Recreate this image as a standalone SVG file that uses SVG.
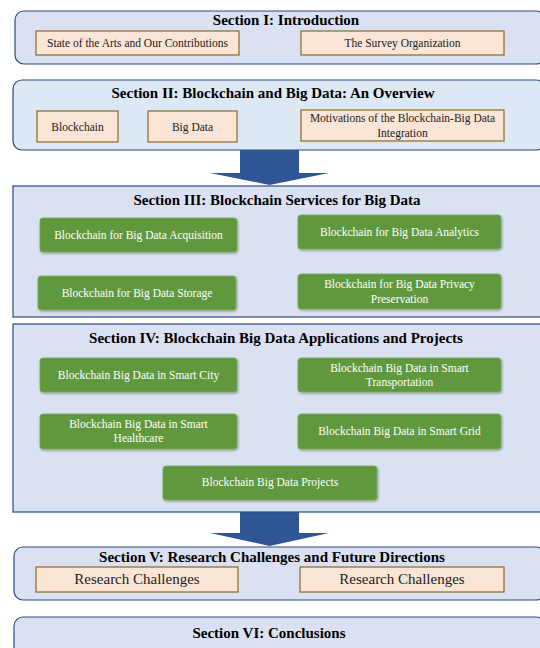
<svg xmlns="http://www.w3.org/2000/svg" width="540" height="648" viewBox="0 0 540 648">
<defs>
<style>
.sec{fill:#dae1f2;stroke:#2f4b7c;stroke-width:1.2}
.sec2{fill:#dde8f5;stroke:#2f4b7c;stroke-width:1.2}
.tan{fill:#fbe5d6;stroke:#8c6a1c;stroke-width:1.2}
.grn{fill:#61993d;stroke:#76ad52;stroke-width:0.8;filter:url(#sh)}
.title{font-family:"Liberation Serif","Times New Roman",serif;font-weight:bold;font-size:15px;fill:#000;text-anchor:middle}
.t{font-family:"Liberation Serif","Times New Roman",serif;font-size:11.5px;fill:#222;text-anchor:middle}
.tl{font-family:"Liberation Serif","Times New Roman",serif;font-size:15px;fill:#222;text-anchor:middle}
.tw{font-family:"Liberation Serif","Times New Roman",serif;font-size:11.5px;fill:#fff;text-anchor:middle}
.arr{fill:#2f5597}
</style>
<filter id="sh" x="-10%" y="-20%" width="120%" height="150%">
<feDropShadow dx="0.8" dy="1.2" stdDeviation="1" flood-color="#000" flood-opacity="0.35"/>
</filter>
</defs>
<g id="connectors">
<polygon class="arr" points="240,150 299,150 299,173 329,173 269.5,185 210,173 240,173"/>
<polygon class="arr" points="240,512 299,512 299,533 329,533 269.5,546 210,533 240,533"/>
</g>
<g id="sec1">
<rect class="sec" x="15" y="11" width="530" height="53" rx="9"/>
<text class="title" x="286" y="24.5">Section I: Introduction</text>
<g id="n-state"><rect class="tan" x="36" y="31" width="203" height="24"/><text class="t" x="137.5" y="47">State of the Arts and Our Contributions</text></g>
<g id="n-survey"><rect class="tan" x="301" y="31" width="203" height="24"/><text class="t" x="402.5" y="47">The Survey Organization</text></g>
</g>
<g id="sec2">
<rect class="sec2" x="13" y="80" width="532" height="70" rx="9"/>
<text class="title" x="273" y="98">Section II: Blockchain and Big Data: An Overview</text>
<g id="n-blockchain"><rect class="tan" x="37" y="111" width="81" height="31"/><text class="t" x="77.5" y="131">Blockchain</text></g>
<g id="n-bigdata"><rect class="tan" x="148" y="111" width="89" height="31"/><text class="t" x="192.5" y="131">Big Data</text></g>
<g id="n-motiv"><rect class="tan" x="301" y="110" width="203" height="31"/><text class="t" x="402.5" y="122">Motivations of the Blockchain-Big Data</text><text class="t" x="402.5" y="137">Integration</text></g>
</g>
<g id="sec3">
<rect class="sec" x="13" y="186" width="532" height="131"/>
<text class="title" x="277" y="205">Section III: Blockchain Services for Big Data</text>
<g id="n-acq"><rect class="grn" x="40" y="218" width="197" height="34" rx="3"/><text class="tw" x="138.5" y="239">Blockchain for Big Data Acquisition</text></g>
<g id="n-ana"><rect class="grn" x="298" y="215" width="203" height="34" rx="3"/><text class="tw" x="399.5" y="236">Blockchain for Big Data Analytics</text></g>
<g id="n-sto"><rect class="grn" x="38" y="276" width="198" height="34" rx="3"/><text class="tw" x="137" y="297">Blockchain for Big Data Storage</text></g>
<g id="n-priv"><rect class="grn" x="298" y="274" width="203" height="35" rx="3"/><text class="tw" x="399.5" y="288">Blockchain for Big Data Privacy</text><text class="tw" x="399.5" y="303">Preservation</text></g>
</g>
<g id="sec4">
<rect class="sec" x="13" y="324" width="532" height="188"/>
<text class="title" x="276" y="343">Section IV: Blockchain Big Data Applications and Projects</text>
<g id="n-city"><rect class="grn" x="40" y="358" width="197" height="34" rx="3"/><text class="tw" x="138.5" y="379">Blockchain Big Data in Smart City</text></g>
<g id="n-trans"><rect class="grn" x="298" y="358" width="203" height="34" rx="3"/><text class="tw" x="399.5" y="372">Blockchain Big Data in Smart</text><text class="tw" x="399.5" y="386">Transportation</text></g>
<g id="n-health"><rect class="grn" x="40" y="414" width="197" height="35" rx="3"/><text class="tw" x="138.5" y="428">Blockchain Big Data in Smart</text><text class="tw" x="138.5" y="442">Healthcare</text></g>
<g id="n-grid"><rect class="grn" x="298" y="414" width="203" height="35" rx="3"/><text class="tw" x="399.5" y="435">Blockchain Big Data in Smart Grid</text></g>
<g id="n-proj"><rect class="grn" x="163" y="466" width="214" height="34" rx="3"/><text class="tw" x="270" y="486">Blockchain Big Data Projects</text></g>
</g>
<g id="sec5">
<rect class="sec" x="14" y="547" width="531" height="53" rx="9"/>
<text class="title" x="272" y="562">Section V: Research Challenges and Future Directions</text>
<g id="n-rc1"><rect class="tan" x="36" y="567" width="202" height="25"/><text class="tl" x="137" y="584">Research Challenges</text></g>
<g id="n-rc2"><rect class="tan" x="300" y="567" width="204" height="25"/><text class="tl" x="402" y="584">Research Challenges</text></g>
</g>
<g id="sec6">
<rect class="sec" x="14" y="617" width="531" height="50" rx="9"/>
<text class="title" x="269" y="638">Section VI: Conclusions</text>
</g>
</svg>
